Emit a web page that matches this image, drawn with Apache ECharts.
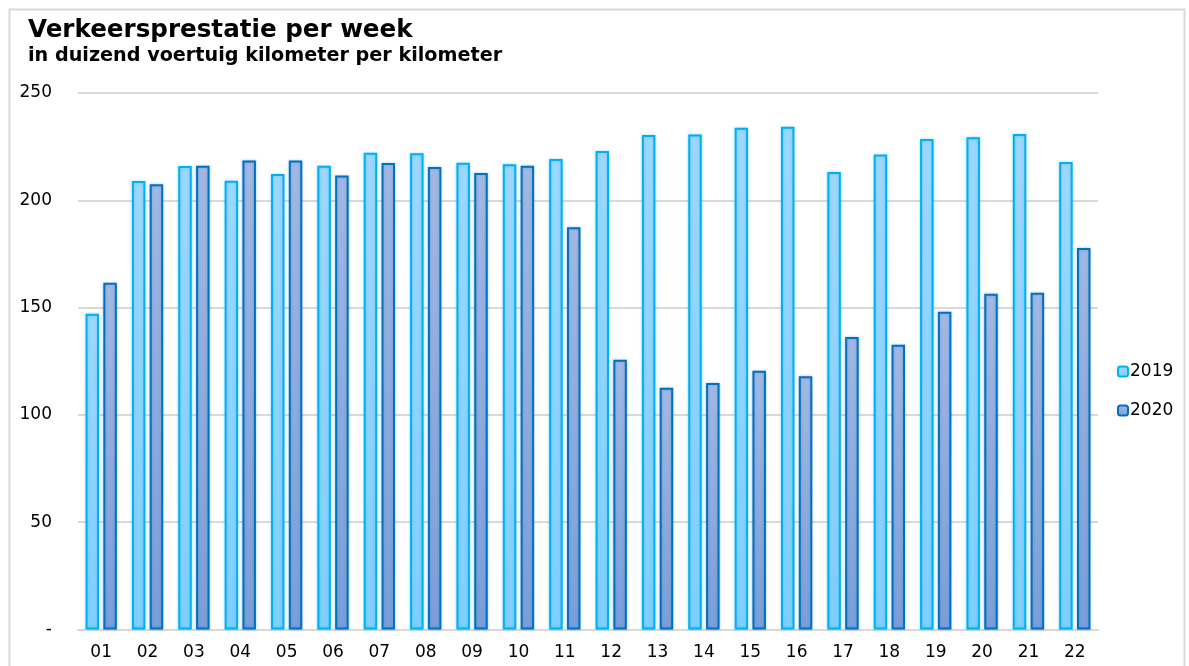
<!DOCTYPE html>
<html>
<head>
<meta charset="utf-8">
<script src="https://cdn.jsdelivr.net/npm/echarts@6/dist/echarts.min.js"></script>
<style>
html,body{margin:0;padding:0;background:#fff;}
#chart{width:1189px;height:666px;}
</style>
</head>
<body>
<div id="chart"></div>
<script>
const weeks = ['01','02','03','04','05','06','07','08','09','10','11','12','13','14','15','16','17','18','19','20','21','22'];
const values2019 = [147.1,209.0,216.0,209.1,212.3,216.1,222.2,221.9,217.5,216.8,219.2,223.0,230.4,230.7,233.8,234.3,213.2,221.3,228.6,229.4,230.9,217.9];
const values2020 = [161.6,207.5,216.1,218.6,218.5,211.5,217.4,215.5,212.7,216.1,187.4,125.7,112.7,114.9,120.6,118.0,136.3,132.7,148.1,156.5,156.9,177.8];
const yTicks = [0,50,100,150,200,250];

const FONT = 'DejaVu Sans';
const chart = echarts.init(document.getElementById('chart'), null, {renderer:'canvas'});
chart.setOption({
  backgroundColor:'#ffffff',
  animation:false,
  textStyle:{fontFamily:FONT},
  graphic:[{
    type:'rect', left:7, top:7, z:-1,
    shape:{width:1175, height:700},
    style:{fill:'none', stroke:'#d9d9d9', lineWidth:2}
  }],
  title:{
    text:'Verkeersprestatie per week',
    subtext:'in duizend voertuig kilometer per kilometer',
    left:23, top:13, itemGap:4,
    textStyle:{fontFamily:FONT, fontSize:24.6, fontWeight:'bold', color:'#000'},
    subtextStyle:{fontFamily:FONT, fontSize:19.2, fontWeight:'bold', color:'#000'}
  },
  legend:{
    orient:'vertical', left:1112, top:358,
    itemWidth:10, itemHeight:10, itemGap:22,
    textStyle:{fontFamily:FONT, fontSize:17, color:'#000', padding:[0,0,0,-3]},
    data:['2019','2020']
  },
  grid:{left:78, right:91, top:93, bottom:36.5, containLabel:false},
  xAxis:{
    type:'category', data:weeks,
    axisLine:{lineStyle:{color:'#d9d9d9', width:2}},
    axisTick:{show:false},
    axisLabel:{fontFamily:FONT, fontSize:17, color:'#000', margin:15}
  },
  yAxis:{
    type:'value', min:yTicks[0], max:yTicks[yTicks.length-1], interval:50,
    axisLine:{show:false}, axisTick:{show:false},
    splitLine:{lineStyle:{color:'#d9d9d9', width:2}},
    axisLabel:{fontFamily:FONT, fontSize:17, color:'#000', margin:26,
      formatter:v => v === 0 ? '-' : String(v)}
  },
  series:[{
    name:'2019', type:'bar', data:values2019,
    barWidth:13.5, barGap:'32%',
    itemStyle:{
      color:new echarts.graphic.LinearGradient(0,0,0,1,[{offset:0,color:'#9ed7fd'},{offset:1,color:'#7fcfff'}]),
      borderColor:'#00b0f0', borderWidth:2,
      shadowColor:'rgba(0,176,240,0.35)', shadowBlur:3
    }
  },{
    name:'2020', type:'bar', data:values2020,
    barWidth:13.5, barGap:'32%',
    itemStyle:{
      color:new echarts.graphic.LinearGradient(0,0,0,1,[{offset:0,color:'#a2b8e2'},{offset:1,color:'#7a9ed8'}]),
      borderColor:'#0070c0', borderWidth:2,
      shadowColor:'rgba(0,112,192,0.3)', shadowBlur:3
    }
  }]
});
</script>
</body>
</html>
